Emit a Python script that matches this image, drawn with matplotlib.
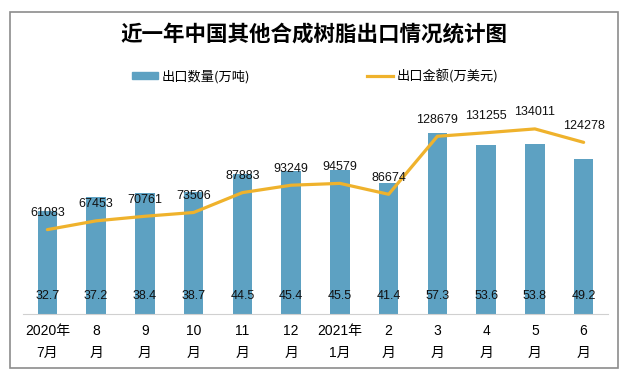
import matplotlib
matplotlib.use("Agg")
import matplotlib.pyplot as plt
from matplotlib.patches import Rectangle
from matplotlib.lines import Line2D
from matplotlib.patches import Patch

plt.rcParams['font.family'] = ['Liberation Sans', 'Noto Sans CJK SC', 'DejaVu Sans']

months = ['2020年\n7月', '8\n月', '9\n月', '10\n月', '11\n月', '12\n月',
          '2021年\n1月', '2\n月', '3\n月', '4\n月', '5\n月', '6\n月']
volume = [32.7, 37.2, 38.4, 38.7, 44.5, 45.4, 45.5, 41.4, 57.3, 53.6, 53.8, 49.2]
amount = [61083, 67453, 70761, 73506, 87883, 93249, 94579, 86674,
          128679, 131255, 134011, 124278]

bar_color = '#5DA1C2'
line_color = '#EFB22C'

fig = plt.figure(figsize=(6.28, 3.74), dpi=100)
fig.patches.append(Rectangle((9.5 / 628, 6 / 374), 608 / 628, 356 / 374,
                             transform=fig.transFigure, fill=False,
                             edgecolor='#8c8c8c', linewidth=1.2))

ax = fig.add_axes([23 / 628, 0.1604, 585 / 628, 0.5909])
x = list(range(len(months)))
ax.bar(x, volume, width=0.4, color=bar_color, zorder=2)
ax.set_xlim(-0.5, 11.5)
ax.set_ylim(0, 70)
ax.set_yticks([])
for s in ['top', 'left', 'right']:
    ax.spines[s].set_visible(False)
ax.spines['bottom'].set_color('#d0d0d0')
ax.set_xticks(x)
ax.set_xticklabels(months, fontsize=10, linespacing=1.75)
ax.tick_params(axis='x', length=0, pad=7)

for xi, v in zip(x, volume):
    ax.annotate(f'{v:.1f}', (xi, 0), xytext=(0, 13), textcoords='offset points',
                ha='center', va='center', fontsize=9, color='#111111', zorder=4)

ax2 = ax.twinx()
ax2.set_ylim(0, 160000)
ax2.set_yticks([])
for s in ['top', 'left', 'right', 'bottom']:
    ax2.spines[s].set_visible(False)
ax2.plot(x, amount, color=line_color, linewidth=2.3, solid_joinstyle='round',
         solid_capstyle='round', zorder=3)
for xi, v in zip(x, amount):
    ax2.annotate(f'{v}', (xi, v), xytext=(0, 12), textcoords='offset points',
                 ha='center', va='center', fontsize=9, color='#111111')

fig.text(0.5, 1 - 34 / 374, '近一年中国其他合成树脂出口情况统计图', ha='center',
         va='center', fontsize=15.5, fontweight='bold',
         family=['Noto Sans CJK SC', 'DejaVu Sans'])

handles = [Patch(color=bar_color), Line2D([], [], color=line_color, linewidth=2.3)]
labels = ['出口数量(万吨)', '出口金额(万美元)']
fig.legend(handles, labels, loc='center', bbox_to_anchor=(0.502, 1 - 76 / 374),
           ncol=2, frameon=False, handlelength=2.0,
           handleheight=0.5, handletextpad=0.3, columnspacing=8.8,
           prop={'family': ['Noto Sans CJK SC', 'DejaVu Sans'], 'size': 9.5})

fig.savefig('out.png', dpi=100)
